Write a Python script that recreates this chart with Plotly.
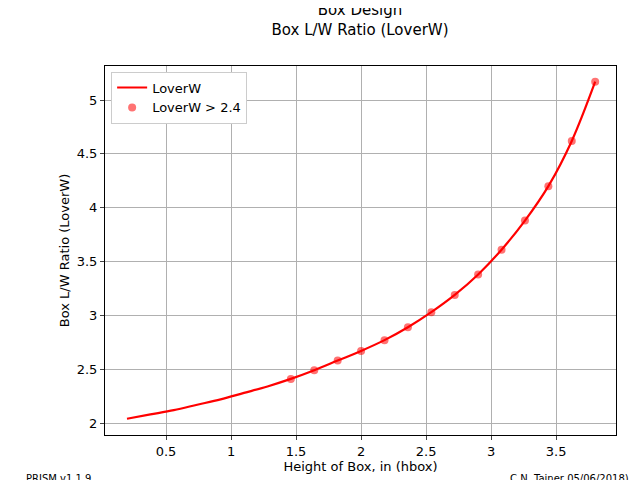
import plotly.graph_objects as go

# line of L/W ratio vs box height
h_line = [0.2, 0.38, 0.56, 0.74, 0.92, 1.1, 1.28, 1.46, 1.64, 1.82, 2.0, 2.18, 2.36,
          2.54, 2.72, 2.9, 3.08, 3.26, 3.44, 3.62, 3.8]
lw_line = [2.04, 2.08, 2.12, 2.17, 2.22, 2.28, 2.34, 2.41, 2.49, 2.58, 2.67, 2.77, 2.89,
           3.03, 3.19, 3.38, 3.61, 3.88, 4.20, 4.62, 5.17]
# points above 2.4
h_pts = h_line[7:]
lw_pts = lw_line[7:]

xticks = [0.5, 1, 1.5, 2, 2.5, 3, 3.5]
yticks = [2, 2.5, 3, 3.5, 4, 4.5, 5]

fig = go.Figure()
fig.add_trace(go.Scatter(x=h_line, y=lw_line, mode="lines", name="LoverW",
                         line=dict(color="red", width=2.2, shape="spline")))
fig.add_trace(go.Scatter(x=h_pts, y=lw_pts, mode="markers", name="LoverW > 2.4",
                         marker=dict(color="rgba(255,0,0,0.55)", size=8)))

ax = dict(showgrid=True, gridcolor="#b0b0b0", zeroline=False, showline=True,
          linecolor="black", mirror=True, ticks="outside", ticklen=4,
          tickfont=dict(size=13, color="black"))
fig.update_layout(
    width=640, height=480, template=None,
    plot_bgcolor="white", paper_bgcolor="white",
    font=dict(family="DejaVu Sans", color="black"),
    margin=dict(l=97, r=32, t=58, b=53, autoexpand=False),
    title=dict(text="Box Design<br>Box L/W Ratio (LoverW)", x=0.55, xanchor="center",
               y=0.985, yanchor="top", font=dict(size=15)),
    xaxis=dict(ax, range=[0.031, 3.96], tickvals=xticks,
               title=dict(text="Height of Box, in (hbox)", font=dict(size=13), standoff=4)),
    yaxis=dict(ax, range=[1.889, 5.316], tickvals=yticks,
               title=dict(text="Box L/W Ratio (LoverW)", font=dict(size=13))),
    legend=dict(x=0.012, y=0.985, xanchor="left", yanchor="top",
                bordercolor="#cccccc", borderwidth=1, bgcolor="white",
                font=dict(size=13)),
    showlegend=True,
    annotations=[
        dict(text="PRISM v1.1.9", xref="paper", yref="paper", x=-0.158, y=-0.138,
             xanchor="left", yanchor="bottom", showarrow=False, font=dict(size=10)),
        dict(text="C.N. Tainer 05/06/2018)", xref="paper", yref="paper", x=1.03, y=-0.138,
             xanchor="right", yanchor="bottom", showarrow=False, font=dict(size=10)),
    ],
)
fig.write_html("out.html")
